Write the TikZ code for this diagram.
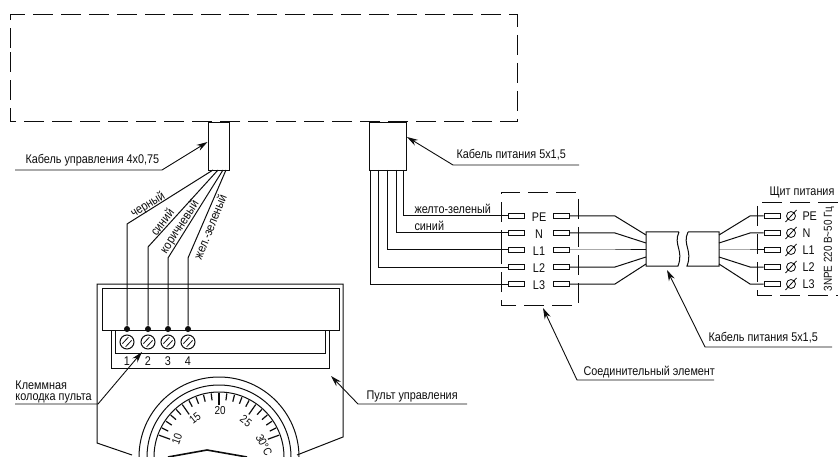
\documentclass[tikz,border=0pt]{standalone}
\usepackage{fontspec}
\setmainfont[FakeStretch=0.86]{Liberation Sans}
\usetikzlibrary{arrows.meta}
\definecolor{ink}{gray}{0.05}
\tikzset{
  x=1pt,y=-1pt,
  dashbox/.style={line width=1pt,dash pattern=on 20pt off 8pt},
  lbl/.style={inner sep=0pt,text=ink,font=\fontsize{12.6}{13}\selectfont},
  small/.style={lbl,font=\fontsize{11.5}{12}\selectfont},
  pin/.style={draw=ink,fill=white,line width=0.9pt,minimum width=16pt,minimum height=4.5pt,inner sep=0pt,rectangle},
  lead/.style={-{Stealth[length=11pt,width=6.5pt]},line width=0.9pt},
  box/.style={draw=ink,rectangle,inner sep=0pt,fill=white},
  screw/.style={draw=ink,circle,minimum size=14pt,inner sep=0pt},
  dot/.style={circle,fill=ink,minimum size=6pt,inner sep=0pt},
}
\begin{document}
\begin{tikzpicture}[color=ink,line width=1pt]
\useasboundingbox (0,0) rectangle (838,457);
% upper dashed box
\draw[dashbox] (10,48) -- (10,15) -- (517,15) -- (517,122) -- (10,122) -- (10,48);
% cable boxes
\node[box,minimum width=21pt,minimum height=48pt,anchor=north west] (ctl) at (207.5,122) {};
\node[box,minimum width=37pt,minimum height=48pt,anchor=north west] (pwr) at (369,122) {};
% control panel
\draw (132,455) -- (97,443) -- (97,284) -- (343,284) -- (343,437) -- (297,455);
\node[box,minimum width=237pt,minimum height=42pt,anchor=north west] (disp) at (102,288) {};
\draw (111,330) -- (111,368) -- (329,368) -- (329,330);
\draw (115,330) -- (115,353) -- (325,353) -- (325,330);
% screws, dots and wires
\foreach \n/\x/\lab in {1/127/1,2/148/2,3/168/3,4/188/4}{
  \node[screw] (s\n) at (\x,342) {};
  \draw[line width=0.8pt] (\x-4.6,343.6) -- (\x+1.4,337.2) (\x-1.4,346.8) -- (\x+4.6,340.4);
  \node[dot] (d\n) at (\x,329) {};
  \node[lbl] (t\n) at (\x,361) {\lab};
}
\coordinate (w1) at (127,224); \coordinate (w2) at (148,247);
\coordinate (w3) at (168,258); \coordinate (w4) at (188,258);
\draw (213,170) -- (w1) -- (d1);
\draw (218,170) -- (w2) -- (d2);
\draw (223,170) -- (w3) -- (d3);
\draw (226,170) -- (w4) -- (d4);
\node[lbl,rotate=32] (n1) at (148,205) {черный};
\node[lbl,rotate=52] (n2) at (162,222) {синий};
\node[lbl,rotate=57] (n3) at (180,227) {коричневый};
\node[lbl,rotate=68] (n4) at (210,227) {жел.-зеленый};
% gauge
\begin{scope}
\clip (100,370) rectangle (320,457);
\foreach \r in {80,72,65}{\draw (219,457) circle[radius=\r];}
\foreach \a in {27,34,41,48,62,69,76,83,97,104,111,118,132,139,146,153}{
  \draw[line width=1.2pt] ([shift={(\a:57pt)}]219,457) -- ([shift={(\a:64pt)}]219,457);}
\foreach \a in {20,55,90,125,160}{
  \draw[line width=1.2pt] ([shift={(\a:52pt)}]219,457) -- ([shift={(\a:64pt)}]219,457);}
\draw[line width=1.6pt] (168,457) -- (207,450) -- (247,457);
\end{scope}
\node[small,rotate=70] (g10) at (177,439) {10};
\node[small,rotate=38] (g15) at (195,418) {15};
\node[small] (g20) at (220,411) {20};
\node[small,rotate=-38] (g25) at (246,421) {25};
\node[small,rotate=-62] (g30) at (264,445) {30°C};
% leaders left
\coordinate (a1) at (15,170); \coordinate (a2) at (162,170);
\draw[lead] (a1) -- (a2) -- (ctl.west |- 0,142);
\node[lbl,anchor=base west] (lc) at (25,164) {Кабель управления 4x0,75};
\coordinate (b1) at (15,404); \coordinate (b2) at (98,404); \coordinate (b3) at (142,352);
\draw[lead] (b1) -- (b2) -- (b3);
\node[lbl,anchor=base west] (lk1) at (15,389) {Клеммная};
\node[lbl,anchor=base west] (lk2) at (15,400) {колодка пульта};
\coordinate (c1) at (467,404); \coordinate (c2) at (358,404); \coordinate (c3) at (331,376);
\draw[lead] (c1) -- (c2) -- (c3);
\node[lbl,anchor=base west] (lp) at (366,399) {Пульт управления};
\coordinate (e1) at (579,165); \coordinate (e2) at (453,165);
\draw[lead] (e1) -- (e2) -- (pwr.east |- 0,137);
\node[lbl,anchor=base west] (lpw) at (456,159) {Кабель питания 5x1,5};
% junction box
\draw[dashbox] (501,250) -- (501,193) -- (578,193) -- (578,305) -- (501,305) -- (501,250);
\foreach \n/\y/\x/\t in {1/216/403/PE,2/233/396/N,3/250/387/L1,4/267/378/L2,5/284/370/L3}{
  \node[pin] (pl\n) at (516,\y) {};
  \node[pin] (pr\n) at (561,\y) {};
  \node[lbl] (jl\n) at (539,\y+1) {\t};
  \draw (\x,170) -- (\x,\y) -- (pl\n.west);
}
\node[lbl,anchor=base west] (ly) at (414,213.5) {желто-зеленый};
\node[lbl,anchor=base west] (ls) at (414,230.5) {синий};
% cable with break
\draw (679,232) -- (646,232) -- (646,266) -- (678,266) .. controls (684,250) and (673,245) .. (679,232);
\draw (688,232) -- (719,232) -- (719,266) -- (687,266) .. controls (693,250) and (682,245) .. (688,232);
\foreach \n/\y/\c in {1/216/235,2/233/243,3/250/250,4/267/257,5/284/264}{
  \coordinate (lb\n) at (615,\y);
  \coordinate (rb\n) at (750,\y);
  \draw (pr\n.east) -- (lb\n) -- (646,\c);
  \node[pin] (ps\n) at (772,\y) {};
  \draw (719,\c) -- (rb\n) -- (ps\n.west);
}
\foreach \n/\y/\t in {1/216/PE,2/233/N,3/250/L1,4/267/L2,5/284/L3}{
  \node[lbl,anchor=base west] (sl\n) at (802,\y+4.5) {\t};
  \draw[line width=0.8pt] (791,\y) circle[radius=4.5];
  \draw[line width=0.8pt] (785.5,\y+6) -- (796.5,\y-6);
}
% supply box
\draw[dashbox] (838,203) -- (757,203) -- (757,295) -- (838,295);
\node[lbl,anchor=base west] (lsh) at (769,196) {Щит питания};
\node[small,rotate=90] (lv) at (829,249) {3NPE 220 В\textasciitilde 50 Гц};
% lower leaders
\coordinate (f1) at (832,347); \coordinate (f2) at (705,347); \coordinate (f3) at (667,270);
\draw[lead] (f1) -- (f2) -- (f3);
\node[lbl,anchor=base west] (lf) at (708,341) {Кабель питания 5x1,5};
\coordinate (h1) at (714,380); \coordinate (h2) at (577,380); \coordinate (h3) at (543,308);
\draw[lead] (h1) -- (h2) -- (h3);
\node[lbl,anchor=base west] (lh) at (583,375.5) {Соединительный элемент};
\end{tikzpicture}
\end{document}
